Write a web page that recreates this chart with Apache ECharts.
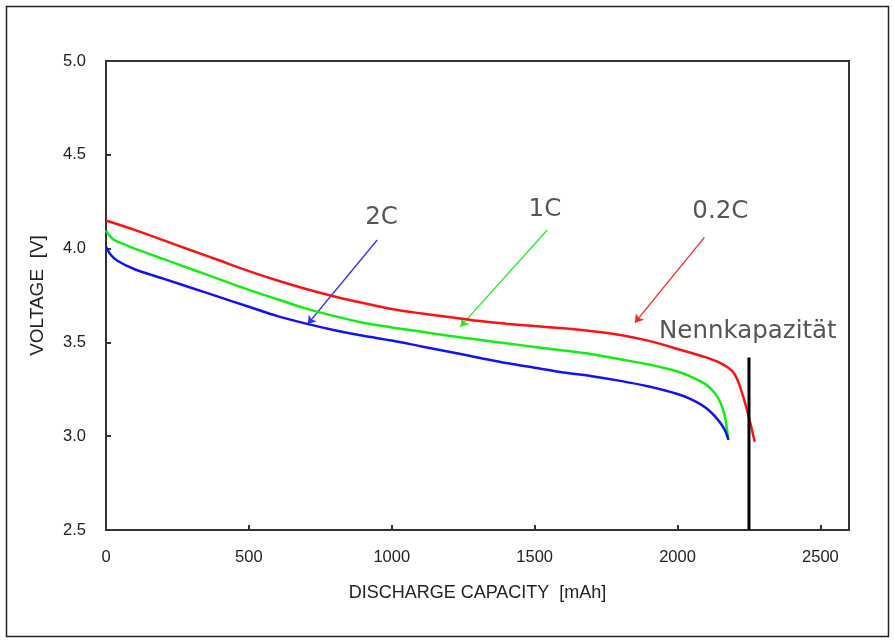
<!DOCTYPE html>
<html>
<head>
<meta charset="utf-8">
<script src="https://cdn.jsdelivr.net/npm/echarts@6/dist/echarts.min.js"></script>
<style>
html,body{margin:0;padding:0;background:#fff;}
#c{width:894px;height:642px;}
</style>
</head>
<body>
<div id="c"></div>
<script>
// ---- data (capacity mAh, voltage V) ----
var xTicks = [0, 500, 1000, 1500, 2000, 2500];
var yTicks = [2.5, 3.0, 3.5, 4.0, 4.5, 5.0];

var cap02C = [0, 100, 200, 300, 400, 500, 600, 700, 800, 900, 1000, 1100, 1200, 1300, 1400, 1500, 1600, 1700, 1800, 1900, 2000, 2100, 2150, 2190, 2210, 2230, 2250, 2270];
var volt02C = [4.15, 4.10, 4.045, 3.99, 3.935, 3.88, 3.83, 3.785, 3.745, 3.71, 3.678, 3.655, 3.635, 3.615, 3.60, 3.587, 3.575, 3.56, 3.54, 3.508, 3.465, 3.42, 3.39, 3.35, 3.30, 3.21, 3.10, 2.97];

var cap1C = [0, 25, 60, 100, 200, 300, 400, 500, 600, 700, 800, 900, 1000, 1100, 1200, 1300, 1400, 1500, 1600, 1700, 1800, 1900, 2000, 2050, 2100, 2130, 2150, 2165, 2178];
var volt1C = [4.095, 4.05, 4.025, 4.00, 3.945, 3.89, 3.835, 3.78, 3.73, 3.68, 3.64, 3.605, 3.58, 3.558, 3.535, 3.515, 3.495, 3.476, 3.457, 3.437, 3.41, 3.382, 3.345, 3.315, 3.275, 3.23, 3.18, 3.11, 2.98];

var cap2C = [0, 15, 40, 100, 200, 300, 400, 500, 600, 700, 800, 900, 1000, 1100, 1200, 1300, 1400, 1500, 1600, 1700, 1800, 1900, 2000, 2050, 2100, 2140, 2165, 2178];
var volt2C = [4.01, 3.97, 3.935, 3.89, 3.84, 3.79, 3.74, 3.69, 3.64, 3.60, 3.565, 3.535, 3.51, 3.48, 3.45, 3.42, 3.39, 3.365, 3.34, 3.32, 3.295, 3.265, 3.225, 3.195, 3.15, 3.09, 3.035, 2.98];

var ratedCapacity = 2250;
var ratedLineVolt = [2.5, 3.42];

// annotation labels
var labelNames = ['2C', '1C', '0.2C', 'Nennkapazität'];
var labelCap = [964, 1536, 2150, 2246];
var labelVolt = [4.163, 4.21, 4.197, 3.555];

// arrows: start/end in data units
var arrowStartCap = [949, 1544, 2094];
var arrowStartVolt = [4.046, 4.099, 4.06];
var arrowEndCap = [706, 1240, 1851];
var arrowEndVolt = [3.598, 3.584, 3.605];
var arrowColors = ['#3333ff', '#22ee22', '#ff2222'];

function zip(a, b) { return a.map(function (v, i) { return [v, b[i]]; }); }

var chart = echarts.init(document.getElementById('c'), null, {renderer: 'canvas'});

var fam = 'Liberation Sans, Arial, sans-serif';

var option = {
  animation: false,
  backgroundColor: '#fff',
  graphic: [{
    type: 'rect',
    shape: {x: 6.5, y: 6.5, width: 882, height: 630},
    style: {fill: 'none', stroke: '#222', lineWidth: 1.5},
    silent: true,
    z: -1
  }],
  grid: {
    left: 106, top: 61, right: 45, bottom: 112,
    show: true, borderColor: '#333', borderWidth: 2, backgroundColor: 'transparent'
  },
  xAxis: {
    type: 'value',
    min: 0, max: 2600, interval: 500,
    name: 'DISCHARGE CAPACITY  [mAh]',
    nameLocation: 'middle', nameGap: 54,
    nameTextStyle: {fontFamily: fam, fontSize: 18, color: '#222'},
    axisLine: {show: true, lineStyle: {color: '#333', width: 2}},
    axisTick: {show: true, inside: true, length: 5, lineStyle: {color: '#333', width: 2}},
    axisLabel: {margin: 19, showMaxLabel: false, fontFamily: fam, fontSize: 16.5, color: '#222',
      formatter: function (v) { return xTicks.indexOf(v) >= 0 ? String(v) : ''; }},
    splitLine: {show: false}
  },
  yAxis: {
    type: 'value',
    min: 2.5, max: 5.0, interval: 0.5,
    name: 'VOLTAGE  [V]',
    nameLocation: 'middle', nameGap: 59, nameRotate: 90,
    nameTextStyle: {fontFamily: fam, fontSize: 19, color: '#222'},
    axisLine: {show: true, lineStyle: {color: '#333', width: 2}},
    axisTick: {show: true, inside: true, length: 5, lineStyle: {color: '#333', width: 2}},
    axisLabel: {margin: 20, fontFamily: fam, fontSize: 16.5, color: '#222',
      formatter: function (v) { return yTicks.indexOf(Math.round(v * 10) / 10) >= 0 ? v.toFixed(1) : ''; }},
    splitLine: {show: false}
  },
  series: [
    {
      name: '0.2C', type: 'line', data: zip(cap02C, volt02C), smooth: 0.3,
      showSymbol: false, lineStyle: {color: '#ff1111', width: 2.5}, itemStyle: {color: '#ff1111'}
    },
    {
      name: '1C', type: 'line', data: zip(cap1C, volt1C), smooth: 0.3,
      showSymbol: false, lineStyle: {color: '#11ee11', width: 2.5}, itemStyle: {color: '#11ee11'}
    },
    {
      name: '2C', type: 'line', data: zip(cap2C, volt2C), smooth: 0.3,
      showSymbol: false, lineStyle: {color: '#1111ff', width: 2.5}, itemStyle: {color: '#1111ff'}
    },
    {
      name: 'rated', type: 'line', data: [[ratedCapacity, ratedLineVolt[0]], [ratedCapacity, ratedLineVolt[1]]],
      showSymbol: false, lineStyle: {color: '#000', width: 3}, z: 5
    },
    {
      type: 'lines', coordinateSystem: 'cartesian2d',
      symbol: ['none', 'arrow'], symbolSize: 8,
      data: arrowStartCap.map(function (c, i) {
        return {
          coords: [[c, arrowStartVolt[i]], [arrowEndCap[i], arrowEndVolt[i]]],
          lineStyle: {color: arrowColors[i], width: 1.3, opacity: 1}
        };
      }),
      lineStyle: {opacity: 1}
    },
    {
      type: 'scatter', symbolSize: 0, silent: true,
      data: labelNames.map(function (n, i) { return {value: [labelCap[i], labelVolt[i]], name: n}; }),
      label: {
        show: true, position: 'inside', formatter: '{b}',
        fontFamily: 'DejaVu Sans, Verdana, sans-serif', fontSize: 24.5, color: '#2a2a2a'
      }
    }
  ]
};
chart.setOption(option);
</script>
</body>
</html>
